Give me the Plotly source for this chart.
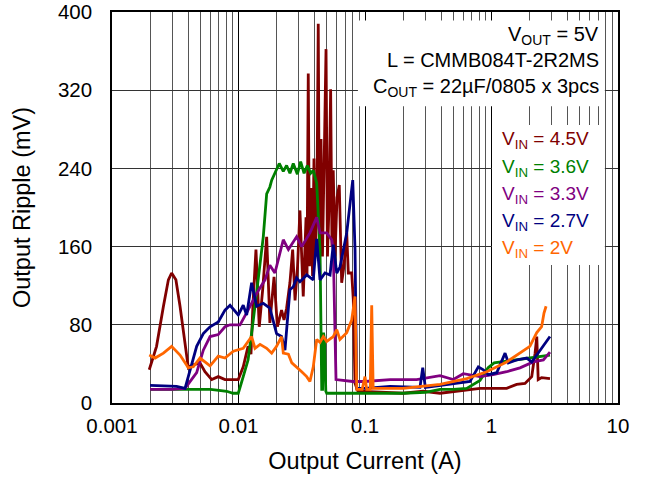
import plotly.graph_objects as go

# ---------------- data ----------------
x_45 = [0.00197, 0.00225, 0.00255, 0.00279, 0.00296, 0.00320, 0.00345, 0.00378, 0.00401, 0.00439,
        0.00496, 0.00543, 0.00614, 0.00692, 0.00782, 0.00996, 0.0109, 0.0119, 0.01255, 0.0130,
        0.01374, 0.01459, 0.01553, 0.0167, 0.0177, 0.0191, 0.0203, 0.0219, 0.0229, 0.0240,
        0.0255, 0.0268, 0.0280, 0.0293, 0.0306, 0.0325, 0.0342, 0.0348, 0.0356, 0.0364,
        0.0374, 0.0385, 0.0395, 0.0406, 0.0418, 0.0427, 0.0437, 0.0449, 0.0461, 0.0477,
        0.0492, 0.0505, 0.0519, 0.0535, 0.0548, 0.0561, 0.0579, 0.0601, 0.0626, 0.0654,
        0.0682, 0.0717, 0.0738, 0.0785, 0.0808, 0.0834, 0.0881, 0.2, 0.289, 0.392,
        0.676, 0.811, 1.318, 1.58, 1.84, 2.08, 2.21, 2.28, 2.34, 2.49, 2.90]
y_45 = [34, 58, 99, 126, 133, 126, 99, 58, 36, 39,
        41, 32, 24, 27, 24, 24, 37, 58, 50, 100,
        157, 78, 116, 170, 82, 129, 78, 95, 85, 97,
        123, 157, 105, 140, 197, 109, 190, 130, 337, 140,
        220, 130, 250, 150, 230, 388, 140, 270, 150, 257,
        362, 150, 200, 321, 160, 238, 150, 210, 223, 123,
        140, 174, 133, 133, 106, 20, 12, 10, 12, 10,
        14, 15, 15, 19, 20, 27, 51, 68, 24, 26, 25]

x_36 = [0.002, 0.003, 0.004, 0.005, 0.006, 0.007, 0.00807, 0.00905, 0.00996, 0.0109,
        0.0119, 0.0131, 0.0143, 0.0157, 0.0167, 0.0177, 0.0183, 0.0200, 0.0210, 0.0226,
        0.0240, 0.0255, 0.0271, 0.0292, 0.0310, 0.0330, 0.0350, 0.0372, 0.0390, 0.0415,
        0.0441, 0.0455, 0.0462, 0.0470, 0.0478, 0.0490, 0.0498, 0.0634, 0.1, 0.1996,
        0.3, 0.392, 0.5, 0.637, 0.811, 0.94, 1.05, 1.2, 1.58, 2.0, 2.9]
y_36 = [14, 14, 14, 14, 14, 13, 12, 10, 10, 27,
        44, 85, 126, 170, 214, 221, 228, 238, 245, 237,
        243, 235, 245, 234, 247, 235, 243, 235, 238, 225,
        157, 14, 14, 72, 65, 12, 10, 10, 10, 10,
        11, 14, 14, 15, 23, 36, 41, 42, 44, 46, 49]

x_33 = [0.002, 0.0030, 0.00378, 0.00467, 0.00527, 0.00596, 0.00692, 0.00782, 0.00857, 0.01028,
        0.0119, 0.0139, 0.0162, 0.0177, 0.0194, 0.0226, 0.0248, 0.0288, 0.0316, 0.0367,
        0.0415, 0.0441, 0.0498, 0.0546, 0.0561, 0.0590, 0.08, 0.1, 0.158, 0.256,
        0.392, 0.499, 0.598, 0.811, 1.03, 1.318, 1.68, 2.14, 2.57, 2.90]
y_33 = [14, 14, 15, 31, 54, 68, 70, 78, 80, 80,
        95, 112, 126, 141, 133, 167, 157, 170, 160, 174,
        190, 174, 174, 167, 157, 24, 22, 22, 24, 24,
        28, 24, 30, 27, 29, 32, 36, 42, 44, 52]

x_27 = [0.002, 0.00324, 0.00378, 0.00467, 0.00527, 0.00596, 0.00692, 0.00782, 0.00857, 0.00938,
        0.00996, 0.0109, 0.0116, 0.0127, 0.0139, 0.0157, 0.0177, 0.0200, 0.0219, 0.0233,
        0.0255, 0.0271, 0.0288, 0.0306, 0.0346, 0.0390, 0.0415, 0.0441, 0.0483, 0.0529,
        0.0561, 0.0598, 0.0634, 0.0717, 0.0761, 0.0800, 0.0834, 0.0849, 0.0860, 0.1,
        0.158, 0.272, 0.286, 0.300, 0.531, 0.676, 0.787, 0.862, 0.944, 1.10,
        1.28, 1.36, 1.58, 1.90, 2.08, 2.42, 2.73, 2.90]
y_27 = [18, 17, 15, 58, 71, 78, 83, 95, 100, 94,
        90, 100, 90, 123, 99, 102, 97, 71, 68, 54,
        116, 119, 128, 124, 131, 126, 168, 126, 133, 131,
        162, 133, 139, 174, 201, 228, 157, 55, 15, 15,
        17, 16, 36, 16, 20, 22, 37, 34, 29, 31,
        51, 41, 44, 46, 42, 54, 63, 68]

x_20 = [0.00197, 0.00219, 0.00255, 0.00296, 0.00345, 0.00401, 0.00439, 0.00496, 0.00596, 0.00692,
        0.00782, 0.00910, 0.0109, 0.0127, 0.0135, 0.0148, 0.0167, 0.0183, 0.0200, 0.0219,
        0.0226, 0.0248, 0.0264, 0.0288, 0.0316, 0.0346, 0.0367, 0.0390, 0.0415, 0.0441,
        0.0468, 0.0498, 0.0561, 0.0598, 0.0634, 0.0717, 0.0785, 0.0834, 0.0860, 0.0950,
        0.100, 0.1031, 0.110, 0.113, 0.116, 0.2, 0.392, 0.637, 0.916, 1.318,
        1.68, 2.01, 2.28, 2.49, 2.60, 2.70]
y_20 = [49, 46, 51, 58, 49, 36, 37, 46, 38, 48,
        46, 53, 56, 68, 56, 60, 56, 51, 58, 68,
        51, 50, 41, 37, 32, 27, 22, 37, 65, 62,
        68, 63, 68, 75, 65, 72, 85, 109, 14, 14,
        27, 14, 14, 100, 15, 15, 19, 25, 32, 42,
        51, 58, 72, 78, 92, 99]

series_names = ["V<sub>IN</sub> = 4.5V", "V<sub>IN</sub> = 3.6V", "V<sub>IN</sub> = 3.3V",
                "V<sub>IN</sub> = 2.7V", "V<sub>IN</sub> = 2V"]
series_colors = ["#800000", "#008000", "#800080", "#000080", "#ff6600"]
series_x = [x_45, x_36, x_33, x_27, x_20]
series_y = [y_45, y_36, y_33, y_27, y_20]

x_ticks = [0.001, 0.01, 0.1, 1, 10]
x_ticklabels = ["0.001", "0.01", "0.1", "1", "10"]
y_ticks = [0, 80, 160, 240, 320, 400]

info_lines = ["V<sub>OUT</sub> = 5V", "L = CMMB084T-2R2MS", "C<sub>OUT</sub> = 22µF/0805 x 3pcs"]

FONT = "Liberation Sans, Arial, sans-serif"

fig = go.Figure()
for name, col, xs, ys in zip(series_names, series_colors, series_x, series_y):
    fig.add_trace(go.Scatter(x=xs, y=ys, mode="lines", name=name,
                             line=dict(color=col, width=2.8), showlegend=False,
                             hoverinfo="skip"))

fig.update_layout(
    width=645, height=482,
    margin=dict(l=112, r=27, t=12, b=79, autoexpand=False),
    paper_bgcolor="white", plot_bgcolor="white",
    font=dict(family=FONT, color="black"),
    showlegend=False,
    hovermode=False,
    xaxis=dict(type="log", range=[-3, 1], tickvals=x_ticks, ticktext=x_ticklabels,
               automargin=False,
               showgrid=True, gridcolor="black", gridwidth=1.3,
               minor=dict(dtick="D1", showgrid=True, gridcolor="#555555", gridwidth=1.3, ticks=""),
               showline=True, linecolor="black", linewidth=1.5, mirror=True,
               ticks="", tickfont=dict(size=20.5), ticklabelstandoff=4,
               title=dict(text="Output Current (A)", font=dict(size=23.5), standoff=16),
               zeroline=False),
    yaxis=dict(range=[0, 400], tickvals=y_ticks, automargin=False,
               showgrid=True, gridcolor="#333333", gridwidth=1.3,
               showline=True, linecolor="black", linewidth=1.5, mirror=True,
               ticks="", tickfont=dict(size=20.5), ticklabelstandoff=14,
               title=dict(text="Output Ripple (mV)", font=dict(size=23.5), standoff=21),
               zeroline=False),
)

fig.add_shape(type="rect", xref="paper", yref="paper", x0=0.486, x1=0.974, y0=0.759, y1=0.978,
              fillcolor="white", line=dict(width=0), layer="above")
fig.add_shape(type="rect", xref="paper", yref="paper", x0=0.751, x1=0.974, y0=0.353, y1=0.711,
              fillcolor="white", line=dict(width=0), layer="above")

info_y = [0.940, 0.876, 0.807]
for txt, yy in zip(info_lines, info_y):
    fig.add_annotation(x=0.966, y=yy, xref="paper", yref="paper", text=txt, showarrow=False,
                       xanchor="right", yanchor="middle", font=dict(size=20, color="black"))

leg_y = [0.672, 0.600, 0.532, 0.464, 0.395]
for txt, col, yy in zip(series_names, series_colors, leg_y):
    fig.add_annotation(x=0.767, y=yy, xref="paper", yref="paper", text=txt, showarrow=False,
                       xanchor="left", yanchor="middle", font=dict(size=19, color=col))

# remove the browser's default 8px body margin so the figure fills the window exactly
fig.write_html("out.html", config={"displayModeBar": False},
               post_script="document.body.style.margin='0';")
